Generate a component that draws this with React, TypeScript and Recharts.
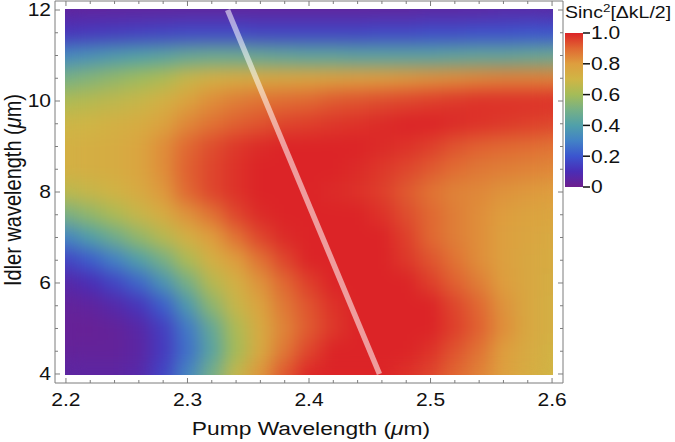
import React from "react";
import { ScatterChart, Scatter, XAxis, YAxis, BarChart, Bar } from "recharts";

// grid (pump along x, idler along y)
const PUMP = [2.2, 2.22, 2.24, 2.26, 2.28, 2.3, 2.32, 2.34, 2.36, 2.38, 2.4, 2.42, 2.44, 2.46, 2.48, 2.5, 2.52, 2.54, 2.56, 2.58, 2.6];
const IDLER = [12, 11.5, 11, 10.5, 10, 9.5, 9, 8.5, 8, 7.5, 7, 6.5, 6, 5.5, 5, 4.5, 4];
const SINC2 = [
  [0.03, 0.03, 0.03, 0.03, 0.03, 0.03, 0.03, 0.03, 0.03, 0.03, 0.03, 0.03, 0.03, 0.03, 0.03, 0.04, 0.04, 0.04, 0.05, 0.05, 0.05],
  [0.12, 0.13, 0.14, 0.15, 0.16, 0.17, 0.17, 0.17, 0.16, 0.16, 0.16, 0.16, 0.16, 0.17, 0.17, 0.18, 0.18, 0.19, 0.19, 0.2, 0.2],
  [0.32, 0.35, 0.38, 0.4, 0.42, 0.45, 0.46, 0.46, 0.45, 0.44, 0.43, 0.43, 0.42, 0.42, 0.42, 0.42, 0.43, 0.44, 0.44, 0.45, 0.46],
  [0.5, 0.53, 0.56, 0.59, 0.62, 0.68, 0.72, 0.74, 0.75, 0.76, 0.77, 0.78, 0.79, 0.8, 0.81, 0.82, 0.83, 0.84, 0.85, 0.85, 0.85],
  [0.62, 0.64, 0.66, 0.68, 0.72, 0.78, 0.83, 0.86, 0.88, 0.89, 0.9, 0.92, 0.93, 0.94, 0.95, 0.96, 0.97, 0.98, 0.98, 0.98, 0.98],
  [0.69, 0.7, 0.72, 0.74, 0.78, 0.84, 0.88, 0.91, 0.93, 0.95, 0.96, 0.97, 0.98, 0.99, 1, 1, 0.99, 0.98, 0.97, 0.96, 0.95],
  [0.72, 0.73, 0.74, 0.77, 0.83, 0.9, 0.94, 0.97, 0.99, 1, 1, 1, 1, 0.99, 0.98, 0.96, 0.93, 0.91, 0.9, 0.89, 0.88],
  [0.72, 0.73, 0.74, 0.77, 0.83, 0.91, 0.95, 0.98, 1, 1, 1, 1, 0.99, 0.97, 0.95, 0.92, 0.89, 0.87, 0.86, 0.85, 0.84],
  [0.65, 0.68, 0.71, 0.75, 0.81, 0.9, 0.95, 0.98, 1, 1, 1, 0.99, 0.98, 0.96, 0.92, 0.88, 0.85, 0.84, 0.82, 0.81, 0.8],
  [0.5, 0.56, 0.62, 0.68, 0.74, 0.82, 0.88, 0.95, 0.99, 1, 1, 1, 1, 0.98, 0.94, 0.9, 0.86, 0.83, 0.8, 0.78, 0.77],
  [0.3, 0.4, 0.48, 0.56, 0.64, 0.72, 0.8, 0.88, 0.95, 0.99, 1, 1, 1, 1, 0.96, 0.9, 0.86, 0.83, 0.79, 0.77, 0.75],
  [0.15, 0.22, 0.3, 0.4, 0.5, 0.62, 0.72, 0.8, 0.88, 0.95, 1, 1, 1, 1, 0.97, 0.93, 0.88, 0.83, 0.79, 0.76, 0.74],
  [0.06, 0.1, 0.16, 0.24, 0.36, 0.5, 0.64, 0.72, 0.82, 0.9, 0.96, 1, 1, 1, 1, 0.96, 0.91, 0.86, 0.8, 0.76, 0.73],
  [0.03, 0.04, 0.07, 0.12, 0.22, 0.38, 0.55, 0.68, 0.78, 0.87, 0.93, 0.98, 1, 1, 1, 1, 0.95, 0.9, 0.82, 0.76, 0.72],
  [0.02, 0.02, 0.03, 0.06, 0.14, 0.28, 0.45, 0.62, 0.75, 0.85, 0.92, 0.97, 1, 1, 1, 1, 0.96, 0.91, 0.83, 0.76, 0.72],
  [0.03, 0.03, 0.03, 0.05, 0.13, 0.26, 0.42, 0.6, 0.75, 0.87, 0.95, 1, 1, 1, 1, 0.98, 0.93, 0.88, 0.8, 0.75, 0.71],
  [0.05, 0.05, 0.05, 0.07, 0.16, 0.32, 0.5, 0.68, 0.82, 0.93, 1, 1, 1, 1, 0.98, 0.95, 0.9, 0.85, 0.79, 0.74, 0.7],
];

const X_TICKS = [2.2, 2.3, 2.4, 2.5, 2.6];
const X_ALL_TICKS = [2.2, 2.22, 2.24, 2.26, 2.28, 2.3, 2.32, 2.34, 2.36, 2.38, 2.4, 2.42, 2.44, 2.46, 2.48, 2.5, 2.52, 2.54, 2.56, 2.58, 2.6];
const Y_TICKS = [4, 6, 8, 10, 12];
const Y_ALL_TICKS = [4, 4.5, 5, 5.5, 6, 6.5, 7, 7.5, 8, 8.5, 9, 9.5, 10, 10.5, 11, 11.5, 12];
const CB_TICKS = [0, 0.2, 0.4, 0.6, 0.8, 1];
const CB_DATA = [{ name: "sinc2", v: 1 }];

// phase-matching line
const LINE_PUMP = [2.333, 2.458];
const LINE_IDLER = [12, 4];
const LINE_DATA = LINE_PUMP.map((x, i) => ({ x, y: LINE_IDLER[i] }));

// rainbow colour function
const COLOR_STOPS: [number, string][] = [
  [0, "#6e1e8e"],
  [0.1, "#4a2db6"],
  [0.2, "#3b55cf"],
  [0.3, "#4282c6"],
  [0.4, "#50a0aa"],
  [0.5, "#76b086"],
  [0.6, "#a4bc58"],
  [0.7, "#d0b545"],
  [0.8, "#de9e3e"],
  [0.9, "#e06832"],
  [1, "#dc2427"],
];

const hex = (c: string) => [1, 3, 5].map((i) => parseInt(c.slice(i, i + 2), 16));
function colorAt(v: number) {
  const t = Math.max(0, Math.min(1, v));
  for (let i = 1; i < COLOR_STOPS.length; i++) {
    const [t1, c1] = COLOR_STOPS[i];
    if (t <= t1) {
      const [t0, c0] = COLOR_STOPS[i - 1];
      const f = (t - t0) / (t1 - t0);
      const a = hex(c0);
      const b = hex(c1);
      return `rgb(${a.map((x, k) => Math.round(x + (b[k] - x) * f)).join(",")})`;
    }
  }
  return COLOR_STOPS[COLOR_STOPS.length - 1][1];
}

const W = 675;
const H = 442;
const MARGIN = { top: 0, right: 111, bottom: 0, left: 0 };
const Y_AXIS_W = 55;
const X_AXIS_H = 59;
const TOP_AXIS_H = 1;
const RIGHT_AXIS_W = 1;
const X_DOMAIN = [2.191, 2.609];
const Y_DOMAIN = [3.802, 12.198];
const PLOT_W = W - MARGIN.left - MARGIN.right - Y_AXIS_W - RIGHT_AXIS_W;
const PLOT_H = H - MARGIN.top - MARGIN.bottom - X_AXIS_H - TOP_AXIS_H;
const KX = PLOT_W / (X_DOMAIN[1] - X_DOMAIN[0]);
const KY = PLOT_H / (Y_DOMAIN[1] - Y_DOMAIN[0]);

const HEAT = IDLER.flatMap((y, r) =>
  PUMP.map((x, c) => ({
    x,
    y,
    v: SINC2[r][c],
    x0: c === 0 ? x : (x + PUMP[c - 1]) / 2,
    x1: c === PUMP.length - 1 ? x : (x + PUMP[c + 1]) / 2,
    y0: r === IDLER.length - 1 ? y : (y + IDLER[r + 1]) / 2,
    y1: r === 0 ? y : (y + IDLER[r - 1]) / 2,
  }))
);

const FRAME = "#7d7d7d";
const FONT = "'Liberation Sans', Arial, sans-serif";
const STRETCH = 1.2;
const MAJOR_LEN = 5;
const MINOR_LEN = 3;

const isMajor = (v: number, majors: number[]) => majors.some((m) => Math.abs(m - v) < 1e-9);

const HeatCell = (props: any) => {
  const { cx, cy, payload } = props;
  const left = cx + (payload.x0 - payload.x) * KX;
  const right = cx + (payload.x1 - payload.x) * KX;
  const top = cy - (payload.y1 - payload.y) * KY;
  const bottom = cy - (payload.y0 - payload.y) * KY;
  return (
    <rect x={left - 0.3} y={top - 0.3} width={right - left + 0.6} height={bottom - top + 0.6} fill={colorAt(payload.v)} />
  );
};

const BottomTick = ({ x, y, payload }: any) => {
  const major = isMajor(payload.value, X_TICKS);
  return (
    <g>
      <line x1={x} x2={x} y1={y} y2={y - (major ? MAJOR_LEN : MINOR_LEN)} stroke={FRAME} />
      {major && (
        <text transform={`translate(${x},${y + 23}) scale(${STRETCH},1)`} textAnchor="middle" fontSize={17.5} fontFamily={FONT} fill="#111">
          {payload.value.toFixed(1)}
        </text>
      )}
    </g>
  );
};

const TopTick = ({ x, y, payload }: any) => {
  const major = isMajor(payload.value, X_TICKS);
  return <line x1={x} x2={x} y1={y} y2={y + (major ? MAJOR_LEN : MINOR_LEN)} stroke={FRAME} />;
};

const LeftTick = ({ x, y, payload }: any) => {
  const major = isMajor(payload.value, Y_TICKS);
  return (
    <g>
      <line x1={x} x2={x + (major ? MAJOR_LEN : MINOR_LEN)} y1={y} y2={y} stroke={FRAME} />
      {major && (
        <text transform={`translate(${x - 4},${y + 6.3}) scale(${STRETCH},1)`} textAnchor="end" fontSize={17.5} fontFamily={FONT} fill="#111">
          {String(payload.value)}
        </text>
      )}
    </g>
  );
};

const RightTick = ({ x, y, payload }: any) => {
  const major = isMajor(payload.value, Y_TICKS);
  return <line x1={x} x2={x - (major ? MAJOR_LEN : MINOR_LEN)} y1={y} y2={y} stroke={FRAME} />;
};

const CbTick = ({ x, y, payload }: any) => (
  <text transform={`translate(${x},${y + 6.3}) scale(${STRETCH},1)`} textAnchor="start" fontSize={17.5} fontFamily={FONT} fill="#111">
    {payload.value === 0 ? "0" : payload.value.toFixed(1)}
  </text>
);

const NoDot = () => <g />;

export default function App() {
  return (
    <div style={{ position: "relative", width: W, height: H }}>
      <style>{`body{margin:0} .heat{filter:url(#heatBlur)}`}</style>
      <svg width={0} height={0} style={{ position: "absolute" }}>
        <defs>
          <filter id="heatBlur" x="0" y="0" width="1" height="1" colorInterpolationFilters="sRGB">
            <feGaussianBlur stdDeviation="9" edgeMode="duplicate" />
            <feComponentTransfer>
              <feFuncA type="table" tableValues="1 1" />
            </feComponentTransfer>
          </filter>
          <linearGradient id="cbGrad" x1="0" y1="1" x2="0" y2="0">
            {COLOR_STOPS.map(([t, c]) => (
              <stop key={t} offset={t} stopColor={c} />
            ))}
          </linearGradient>
        </defs>
      </svg>

      <ScatterChart width={W} height={H} margin={MARGIN}>
        <XAxis
          xAxisId="b"
          type="number"
          dataKey="x"
          domain={X_DOMAIN}
          allowDataOverflow
          ticks={X_ALL_TICKS}
          interval={0}
          height={X_AXIS_H}
          tickSize={0}
          tickMargin={0}
          tickLine={false}
          axisLine={{ stroke: FRAME }}
          tick={(p: any) => <BottomTick {...p} />}
        />
        <XAxis
          xAxisId="t"
          orientation="top"
          type="number"
          dataKey="x"
          domain={X_DOMAIN}
          allowDataOverflow
          ticks={X_ALL_TICKS}
          interval={0}
          height={TOP_AXIS_H}
          tickSize={0}
          tickMargin={0}
          tickLine={false}
          axisLine={{ stroke: FRAME }}
          tick={(p: any) => <TopTick {...p} />}
        />
        <YAxis
          yAxisId="l"
          type="number"
          dataKey="y"
          domain={Y_DOMAIN}
          allowDataOverflow
          ticks={Y_ALL_TICKS}
          interval={0}
          width={Y_AXIS_W}
          tickSize={0}
          tickMargin={0}
          tickLine={false}
          axisLine={{ stroke: FRAME }}
          tick={(p: any) => <LeftTick {...p} />}
        />
        <YAxis
          yAxisId="r"
          orientation="right"
          type="number"
          dataKey="y"
          domain={Y_DOMAIN}
          allowDataOverflow
          ticks={Y_ALL_TICKS}
          interval={0}
          width={RIGHT_AXIS_W}
          tickSize={0}
          tickMargin={0}
          tickLine={false}
          axisLine={{ stroke: FRAME }}
          tick={(p: any) => <RightTick {...p} />}
        />
        <Scatter
          data={HEAT}
          dataKey="y"
          xAxisId="b"
          yAxisId="l"
          shape={HeatCell}
          className="heat"
          isAnimationActive={false}
        />
        <Scatter
          data={LINE_DATA}
          dataKey="y"
          xAxisId="t"
          yAxisId="r"
          shape={NoDot}
          line={{ stroke: "#ffffff", strokeOpacity: 0.55, strokeWidth: 5.5 }}
          isAnimationActive={false}
        />
      </ScatterChart>

      <div style={{ position: "absolute", left: 560, top: 0 }}>
        <BarChart width={115} height={200} data={CB_DATA} margin={{ top: 33, right: 0, bottom: 13, left: 5 }} barCategoryGap={0}>
          <XAxis dataKey="name" hide />
          <YAxis
            orientation="right"
            type="number"
            domain={[0, 1]}
            ticks={CB_TICKS}
            interval={0}
            width={92}
            axisLine={false}
            tickSize={7}
            tickMargin={1}
            tickLine={{ stroke: "#111", strokeWidth: 1.5 }}
            tick={(p: any) => <CbTick {...p} />}
          />
          <Bar dataKey="v" fill="url(#cbGrad)" isAnimationActive={false} />
        </BarChart>
      </div>

      <svg width={W} height={H} style={{ position: "absolute", left: 0, top: 0, pointerEvents: "none" }}>
        <text transform={`translate(311,435) scale(${STRETCH},1)`} textAnchor="middle" fontSize={19} fontFamily={FONT} fill="#111">
          Pump Wavelength (<tspan fontStyle="italic">μ</tspan>m)
        </text>
        <text transform={`translate(21,190) scale(${STRETCH},1) rotate(-90)`} textAnchor="middle" fontSize={20} fontFamily={FONT} fill="#111">
          Idler wavelength (<tspan fontStyle="italic">μ</tspan>m)
        </text>
        <text transform={`translate(565,18) scale(1.22,1)`} fontSize={16} fontFamily={FONT} fill="#111">
          Sinc<tspan dy={-6} fontSize={11}>2</tspan>
          <tspan dy={6}>[ΔkL/2]</tspan>
        </text>
      </svg>
    </div>
  );
}
